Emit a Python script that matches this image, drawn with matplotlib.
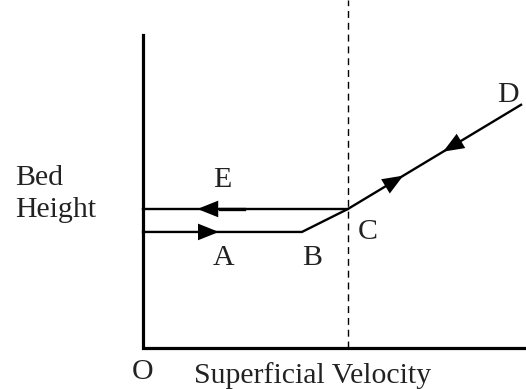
import matplotlib.pyplot as plt

# schematic: bed height vs superficial velocity (arbitrary units)
packed_h = 3.03      # fixed bed height (O-A-B)
expanded_h = 3.63    # bed height after fluidisation (E)
u_b = 4.15           # point B
u_mf = 5.35          # minimum fluidisation velocity (C)
u_d = 9.87           # point D
h_d = 6.35
y_top = 8.17

px = 38.3  # pixels per unit
fig = plt.figure(figsize=(5.26, 3.89), dpi=100)
ax = fig.add_axes([0, 0, 1, 1])
ax.set_xlim(-143 / px, (526 - 143) / px)
ax.set_ylim(-(389 - 348) / px, 348 / px)
ax.axis("off")

# axes
ax.plot([0, 0, (526 - 143) / px], [y_top, 0, 0], color="black", lw=2.3,
        solid_joinstyle="miter")
ax.plot([u_mf, u_mf], [0, 348 / px], color="black", lw=1.0, ls=(0, (5, 3.5)))

# rising velocity: A -> B -> C -> D
ax.plot([0, u_b, u_mf, u_d], [packed_h, packed_h, expanded_h, h_d],
        color="black", lw=1.7)
# falling velocity: D -> C -> E
ax.plot([0, u_mf], [expanded_h, expanded_h], color="black", lw=1.7)
ax.plot([2.0, 2.65], [expanded_h, expanded_h], color="black", lw=2.4)


def arrow(x0, y0, x1, y1):
    ax.annotate("", xy=(x1, y1), xytext=(x0, y0),
                arrowprops=dict(arrowstyle="-|>,head_length=1.5,head_width=0.6",
                                mutation_scale=10, color="black", lw=0,
                                shrinkA=0, shrinkB=0))


arrow(1.5, packed_h, 1.98, packed_h)
arrow(2.0, expanded_h, 1.42, expanded_h)


def along(t):
    return u_mf + t * (u_d - u_mf), expanded_h + t * (h_d - expanded_h)


arrow(*along(0.22), *along(0.32))
arrow(*along(0.66), *along(0.55))

fs = 21.5
font = dict(family="Liberation Serif", fontsize=fs, color="#222222")
ax.text(2.06, 4.39, "E", ha="center", va="center", **font)
ax.text(2.11, 2.35, "A", ha="center", va="center", **font)
ax.text(4.41, 2.35, "B", ha="center", va="center", **font)
ax.text(5.87, 3.03, "C", ha="center", va="center", **font)
ax.text(9.53, 6.6, "D", ha="center", va="center", **font)
ax.text(0.0, -0.63, "O", ha="center", va="center", **font)
ax.text(4.42, -0.72, "Superficial Velocity", ha="center", va="center", **font)
ax.text(-3.35, 4.44, "Bed", ha="left", va="center", **font)
ax.text(-3.35, 3.6, "Height", ha="left", va="center", **font)

fig.savefig("out.png", dpi=100)
